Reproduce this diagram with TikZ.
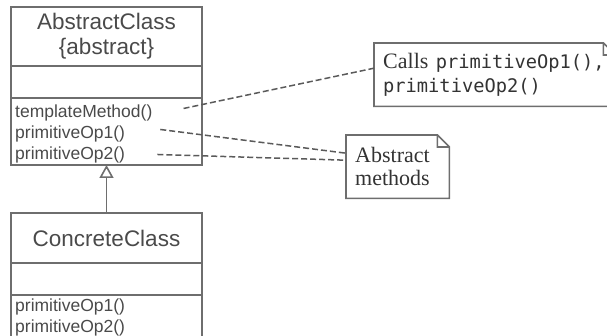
\documentclass[tikz,border=0pt]{standalone}
\usepackage{fontspec}
\setmainfont{Liberation Serif}
\setsansfont{Liberation Sans}
\setmonofont[Scale=0.85]{DejaVu Sans Mono}
\usetikzlibrary{arrows.meta,positioning}
\definecolor{boxgray}{HTML}{6E6E6E}
\definecolor{txtgray}{HTML}{4A4A4A}
\definecolor{linkgray}{HTML}{5A5A5A}
\definecolor{notegray}{HTML}{333333}
\newcommand{\dogear}[1]{\draw[noteline] (#1.north west) -- ([xshift=-12pt]#1.north east)
  -- ([yshift=-12pt]#1.north east) -- (#1.south east) -- (#1.south west) -- cycle
  ([xshift=-12pt]#1.north east) |- ([yshift=-12pt]#1.north east);}
\begin{document}
\begin{tikzpicture}[x=1pt,y=-1pt,
  box/.style={draw=boxgray, line width=1.8pt, minimum width=191pt, inner sep=0pt, outer sep=0pt, anchor=north west},
  classname/.style={font=\sffamily\fontsize{22.5}{25}\selectfont, text=txtgray, align=center},
  op/.style={font=\sffamily\fontsize{17.5}{21}\selectfont, text=txtgray, anchor=base west, inner sep=0pt},
  note/.style={font=\fontsize{22}{23.5}\selectfont, text=notegray, align=left, anchor=north west, inner xsep=9pt},
  noteline/.style={draw=boxgray, line width=1.6pt},
  link/.style={draw=linkgray, line width=1.5pt, dash pattern=on 6pt off 3pt},
  inherit/.style={draw=boxgray, line width=1.6pt, -{Triangle[open, length=13pt, width=14pt, fill=white]}}]
\useasboundingbox (0,0) rectangle (607,336);
\clip (0,0) rectangle (607,336);
\node[box, classname, minimum height=59pt] (aname) at (11,7) {AbstractClass\\\{abstract\}};
\node[box, minimum height=32pt, below=0pt of aname] (aattr) {};
\node[box, minimum height=67pt, below=0pt of aattr] (aops) {};
\node[op] (tm) at (15,118) {templateMethod()};
\node[op] (ap1) at (15,139) {primitiveOp1()};
\node[op] (ap2) at (15,160) {primitiveOp2()};
\node[box, classname, minimum height=50pt] (cname) at (11,213) {ConcreteClass};
\node[box, minimum height=32pt, below=0pt of cname] (cattr) {};
\node[box, minimum height=60pt, below=0pt of cattr] (cops) {};
\node[op] (cp1) at (15,312) {primitiveOp1()};
\node[op] (cp2) at (15,332) {primitiveOp2()};
\draw[inherit] (cname.north) -- (aops.south);
\node[note, text width=223pt, minimum height=63pt] (calls) at (374,43)
  {Calls \texttt{primitiveOp1(),}\\\texttt{primitiveOp2()}};
\node[note, text width=85pt, minimum height=63pt] (abs) at (346,135) {Abstract\\methods};
\dogear{calls}
\dogear{abs}
\draw[link] ([xshift=31pt,yshift=5pt]tm.east) -- ([yshift=6.5pt]calls.west);
\draw[link] ([xshift=35pt,yshift=5pt]ap1.east) -- ([yshift=13.5pt]abs.west);
\draw[link] ([xshift=32pt,yshift=1pt]ap2.east) -- ([yshift=6.5pt]abs.west);
\end{tikzpicture}
\end{document}
